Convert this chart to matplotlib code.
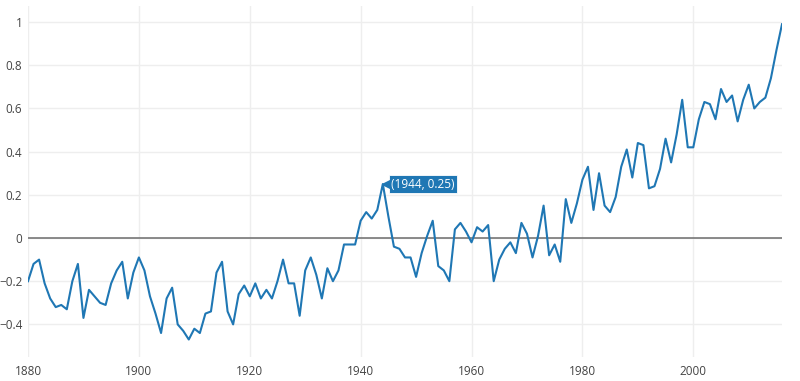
import matplotlib
matplotlib.use('Agg')
import matplotlib.pyplot as plt
import matplotlib.transforms as mtransforms
import numpy as np

plt.rcParams['font.family'] = ['Open Sans', 'DejaVu Sans']

years = np.arange(1880, 2017)
anomaly = [
    -0.20, -0.12, -0.10, -0.21, -0.28, -0.32, -0.31, -0.33, -0.20, -0.12,  # 1880s
    -0.37, -0.24, -0.27, -0.30, -0.31, -0.21, -0.15, -0.11, -0.28, -0.16,  # 1890s
    -0.09, -0.15, -0.27, -0.35, -0.44, -0.28, -0.23, -0.40, -0.43, -0.47,  # 1900s
    -0.42, -0.44, -0.35, -0.34, -0.16, -0.11, -0.34, -0.40, -0.26, -0.22,  # 1910s
    -0.27, -0.21, -0.28, -0.24, -0.28, -0.20, -0.10, -0.21, -0.21, -0.36,  # 1920s
    -0.15, -0.09, -0.17, -0.28, -0.14, -0.20, -0.15, -0.03, -0.03, -0.03,  # 1930s
    0.08, 0.12, 0.09, 0.13, 0.25, 0.10, -0.04, -0.05, -0.09, -0.09,        # 1940s
    -0.18, -0.07, 0.01, 0.08, -0.13, -0.15, -0.20, 0.04, 0.07, 0.03,       # 1950s
    -0.02, 0.05, 0.03, 0.06, -0.20, -0.10, -0.05, -0.02, -0.07, 0.07,      # 1960s
    0.02, -0.09, 0.01, 0.15, -0.08, -0.03, -0.11, 0.18, 0.07, 0.16,        # 1970s
    0.27, 0.33, 0.13, 0.30, 0.15, 0.12, 0.19, 0.33, 0.41, 0.28,            # 1980s
    0.44, 0.43, 0.23, 0.24, 0.32, 0.46, 0.35, 0.48, 0.64, 0.42,            # 1990s
    0.42, 0.55, 0.63, 0.62, 0.55, 0.69, 0.63, 0.66, 0.54, 0.64,            # 2000s
    0.71, 0.60, 0.63, 0.65, 0.74, 0.87, 0.99,                              # 2010s
]
x_ticks = [1880, 1900, 1920, 1940, 1960, 1980, 2000]
y_ticks = [-0.4, -0.2, 0, 0.2, 0.4, 0.6, 0.8, 1]
y_labels = ['\u22120.4', '\u22120.2', '0', '0.2', '0.4', '0.6', '0.8', '1']
hover_year = 1944

line_color = '#1f77b4'
text_color = '#444444'

fig = plt.figure(figsize=(8, 3.81), dpi=100)
ax = fig.add_axes([0.035, 0.063, 0.9425, 0.921])

ax.plot(years, anomaly, color=line_color, lw=1.5, zorder=3)
ax.axhline(0, color='#777777', lw=1.2, zorder=2)

ax.set_xlim(1880, 2016)
ax.set_ylim(-0.551, 1.074)
ax.set_xticks(x_ticks)
ax.set_yticks(y_ticks)
ax.set_yticklabels(y_labels)
ax.grid(True, color='#eeeeee', lw=1)
ax.set_axisbelow(True)
for s in ax.spines.values():
    s.set_visible(False)
ax.tick_params(length=0, colors=text_color, labelsize=8.5, pad=6)
ax.tick_params(axis='y', pad=4)

# hover label
hv = anomaly[hover_year - 1880]
ax.annotate(f'({hover_year}, {hv:.2f})', xy=(hover_year, hv), xytext=(6, 0),
            textcoords='offset points', ha='left', va='center', color='white',
            fontsize=8.5, zorder=5,
            bbox=dict(boxstyle='square,pad=0.18', fc=line_color, ec='white', lw=0.6))
tri = mtransforms.offset_copy(ax.transData, fig=fig, x=2.6, y=0, units='points')
ax.plot([hover_year], [hv], marker='<', ms=6, color=line_color, mec=line_color,
        transform=tri, zorder=5, clip_on=False)

fig.savefig('out.png', dpi=100)
